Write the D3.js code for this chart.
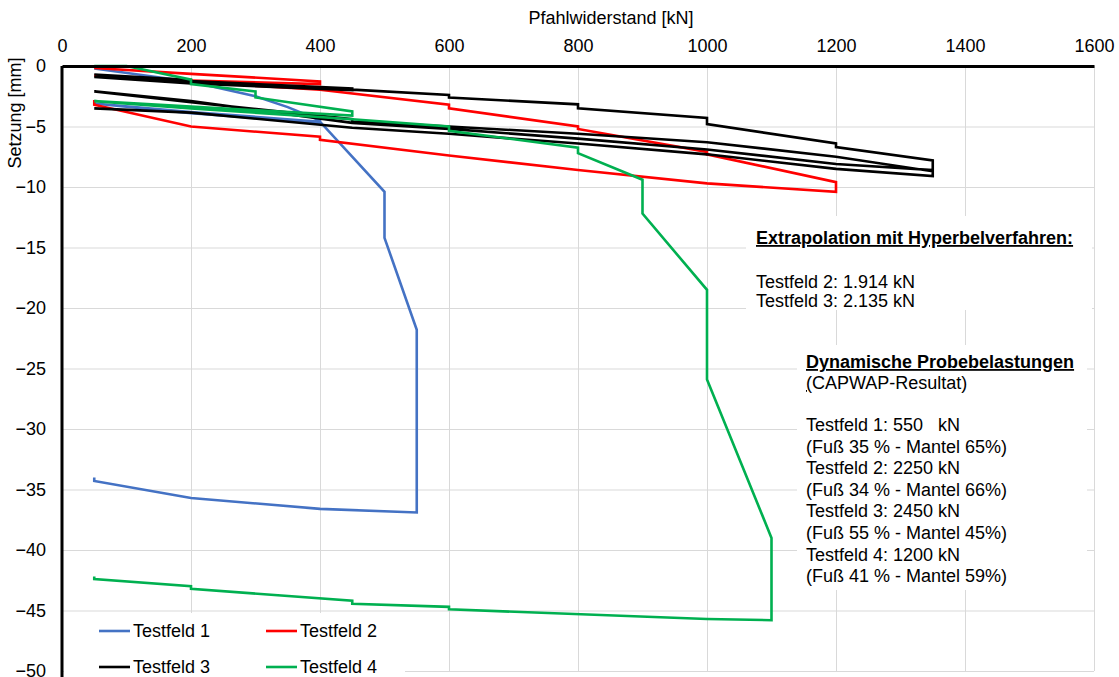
<!DOCTYPE html>
<html>
<head>
<meta charset="utf-8">
<script src="https://cdn.jsdelivr.net/npm/d3@7"></script>
<style>
  body { margin: 0; background: #fff; }
  text { font-family: "Liberation Sans", Arial, sans-serif; fill: #000; }
</style>
</head>
<body>
<svg width="1119" height="677"></svg>
<script>
// load [kN], settlement [mm] pairs
var testfeld1 = [[50,-0.2],[200,-1.3],[300,-2.5],[350,-3.4],[400,-4.5],[400,-4.7],[200,-3.9],[50,-3.1],
                 [200,-3.8],[400,-4.6],[500,-10.4],[500,-14.2],[550,-21.8],[550,-36.9],[400,-36.6],
                 [200,-35.7],[50,-34.3],[50,-34.0]];
var testfeld2 = [[50,-0.17],[200,-0.65],[400,-1.27],[400,-1.5],[200,-1.2],[50,-0.8],[200,-1.3],[400,-1.96],
                 [600,-3.2],[600,-3.5],[800,-5.0],[800,-5.2],[1000,-7.1],[1000,-7.3],[1200,-9.6],[1200,-10.4],
                 [1000,-9.7],[800,-8.6],[600,-7.4],[400,-6.1],[400,-5.85],[200,-5.0],[50,-3.2],[50,-2.8]];
var testfeld3 = [[50,-0.7],[200,-1.15],[200,-1.25],[450,-1.85],[450,-2.0],[200,-1.45],[50,-0.9],[200,-1.3],
                 [450,-1.95],[600,-2.4],[600,-2.6],[800,-3.17],[800,-3.5],[1000,-4.3],[1000,-4.8],[1200,-6.4],
                 [1200,-6.7],[1350,-7.8],[1350,-8.6],[1200,-8.1],[1000,-6.9],[800,-6.0],[600,-5.2],[450,-4.7],
                 [200,-2.9],[50,-2.1],[200,-3.0],[450,-4.4],[450,-4.6],[600,-5.0],[800,-5.6],[1000,-6.3],
                 [1200,-7.5],[1350,-8.7],[1350,-9.1],[1200,-8.5],[1000,-7.3],[800,-6.4],[600,-5.6],
                 [450,-5.1],[200,-3.85],[50,-3.5]];
var testfeld4 = [[50,0],[100,0],[200,-1.13],[200,-1.5],[300,-2.1],[300,-2.6],[450,-3.75],[450,-4.1],
                 [200,-3.35],[50,-2.9],[200,-3.5],[450,-4.4],[600,-5.0],[600,-5.35],[800,-6.75],[800,-7.2],
                 [900,-9.4],[900,-12.2],[1000,-18.5],[1000,-25.9],[1100,-39.0],[1100,-45.8],[1000,-45.7],
                 [600,-44.9],[600,-44.7],[450,-44.45],[450,-44.2],[200,-43.2],[200,-43.0],[50,-42.4],[50,-42.2]];

var seriesNames = ["Testfeld 1", "Testfeld 2", "Testfeld 3", "Testfeld 4"];
var lineColors = ["#4472C4", "#FF0000", "#000000", "#00B050"];
var xTicks = [0, 200, 400, 600, 800, 1000, 1200, 1400, 1600];
var yTicks = [0, -5, -10, -15, -20, -25, -30, -35, -40, -45, -50];

var extrapTitle = "Extrapolation mit Hyperbelverfahren:";
var extrapLines = ["Testfeld 2: 1.914 kN", "Testfeld 3: 2.135 kN"];
var dynTitle = "Dynamische Probebelastungen";
var dynLines = ["Testfeld 1: 550   kN", "(Fuß 35 % - Mantel 65%)", "Testfeld 2: 2250 kN",
                "(Fuß 34 % - Mantel 66%)", "Testfeld 3: 2450 kN", "(Fuß 55 % - Mantel 45%)",
                "Testfeld 4: 1200 kN", "(Fuß 41 % - Mantel 59%)"];

var svg = d3.select("svg");
var plotLeft = 62, plotRight = 1094, plotTop = 66, plotBottom = 671;
var fs = "18px";

var x = d3.scaleLinear().domain([0, 1600]).range([plotLeft, plotRight]);
var y = d3.scaleLinear().domain([0, -50]).range([plotTop, plotBottom]);

// grid
svg.append("g")
  .attr("transform", "translate(0," + plotTop + ")")
  .call(d3.axisBottom(x).tickValues(xTicks).tickSize(plotBottom - plotTop).tickFormat(""))
  .call(function(g) { g.select(".domain").remove(); })
  .selectAll("line").attr("stroke", "#d9d9d9");
svg.append("g")
  .attr("transform", "translate(" + plotLeft + ",0)")
  .call(d3.axisRight(y).tickValues(yTicks).tickSize(plotRight - plotLeft).tickFormat(""))
  .call(function(g) { g.select(".domain").remove(); })
  .selectAll("line").attr("stroke", "#d9d9d9");

// series
var line = d3.line()
  .x(function(d) { return x(d[0]); })
  .y(function(d) { return y(d[1]); });

[testfeld1, testfeld2, testfeld3, testfeld4].forEach(function(s, i) {
  svg.append("path")
    .datum(s)
    .attr("d", line)
    .attr("fill", "none")
    .attr("stroke", lineColors[i])
    .attr("stroke-width", 2.6)
    .attr("stroke-linejoin", "miter");
});

// axes
var xAxis = svg.append("g")
  .attr("transform", "translate(0," + plotTop + ")")
  .call(d3.axisTop(x).tickValues(xTicks).tickSize(0).tickPadding(14).tickFormat(d3.format("d")));
xAxis.select(".domain").attr("stroke", "#000").attr("stroke-width", 3);
xAxis.selectAll("text").style("font-size", fs).style("font-family", "Liberation Sans, Arial");

var yAxis = svg.append("g")
  .attr("transform", "translate(" + plotLeft + ",0)")
  .call(d3.axisLeft(y).tickValues(yTicks).tickSize(0).tickPadding(16).tickFormat(d3.format("d")));
yAxis.select(".domain").attr("stroke", "#000").attr("stroke-width", 3).attr("d", "M0," + plotTop + "V677");
yAxis.selectAll("text").style("font-size", fs).style("font-family", "Liberation Sans, Arial");

svg.append("text")
  .attr("x", 611).attr("y", 24)
  .attr("text-anchor", "middle")
  .style("font-size", fs)
  .text("Pfahlwiderstand [kN]");

svg.append("text")
  .attr("transform", "translate(21,113) rotate(-90)")
  .attr("text-anchor", "middle")
  .style("font-size", fs)
  .text("Setzung [mm]");

// text box: extrapolation
svg.append("rect").attr("x", 746).attr("y", 216).attr("width", 346).attr("height", 94).attr("fill", "#fff");
svg.append("text")
  .attr("x", 756).attr("y", 244)
  .style("font-size", fs).style("font-weight", "bold").style("text-decoration", "underline")
  .text(extrapTitle);
extrapLines.forEach(function(t, i) {
  svg.append("text")
    .attr("x", 756).attr("y", 288 + i * 19)
    .style("font-size", fs)
    .text(t);
});

// text box: dynamic load tests
svg.append("rect").attr("x", 797).attr("y", 345).attr("width", 290).attr("height", 245).attr("fill", "#fff");
svg.append("text")
  .attr("x", 806).attr("y", 368)
  .style("font-size", fs).style("font-weight", "bold").style("text-decoration", "underline")
  .text(dynTitle);
var capwap = svg.append("text").attr("x", 806).attr("y", 389).style("font-size", fs);
capwap.append("tspan").style("text-decoration", "underline").text("(");
capwap.append("tspan").text("CAPWAP-Resultat)");
dynLines.forEach(function(t, i) {
  svg.append("text")
    .attr("x", 806).attr("y", 431 + i * 21.6)
    .style("font-size", fs)
    .style("white-space", "pre")
    .text(t);
});

// legend
svg.append("rect").attr("x", 64).attr("y", 613).attr("width", 341).attr("height", 64).attr("fill", "#fff");
seriesNames.forEach(function(name, i) {
  var lx = i % 2 === 0 ? 99 : 266;
  var ly = i < 2 ? 631 : 667;
  svg.append("line")
    .attr("x1", lx).attr("x2", lx + 31)
    .attr("y1", ly).attr("y2", ly)
    .attr("stroke", lineColors[i]).attr("stroke-width", 2.6);
  svg.append("text")
    .attr("x", lx + 34).attr("y", ly + 6)
    .style("font-size", fs)
    .text(name);
});
</script>
</body>
</html>
